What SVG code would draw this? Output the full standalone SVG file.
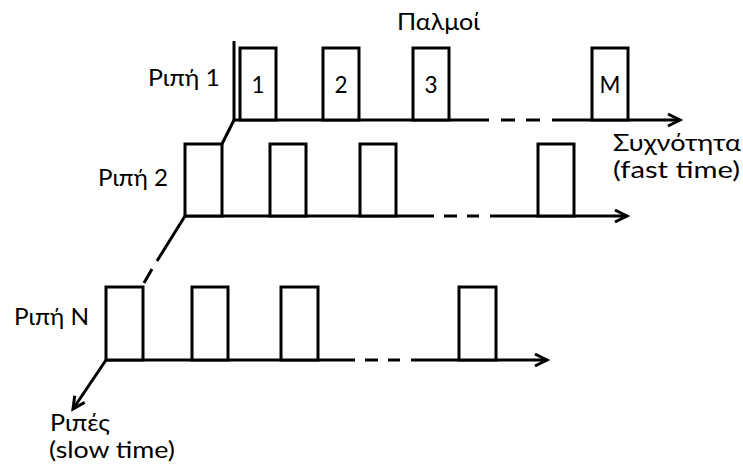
<svg xmlns="http://www.w3.org/2000/svg" width="743" height="471" viewBox="0 0 743 471">
<style>
.ln{stroke:#000;stroke-width:3;fill:none;stroke-linecap:butt}
.p{stroke:#000;stroke-width:3;fill:#fff}
.t{font-family:Lato,"Open Sans","Liberation Sans",sans-serif;font-size:22.5px;fill:#000}
.c{text-anchor:middle}
</style>
<defs>
<marker id="arr" markerUnits="userSpaceOnUse" markerWidth="16" markerHeight="16" refX="13" refY="7" orient="auto" overflow="visible">
<path d="M1,1 L13,7 L1,13" fill="none" stroke="#000" stroke-width="3"/>
</marker>
</defs>
<rect width="743" height="471" fill="#fff"/>
<g id="connectors">
<line class="ln" x1="234" y1="41" x2="234" y2="121.5"/>
<path class="ln" d="M234,120 L489,120 M501,120 L515,120 M526,120 L540,120"/>
<line class="ln" x1="552" y1="120" x2="680" y2="120" marker-end="url(#arr)"/>
<path class="ln" d="M185,216 L434,216 M444,216 L457,216 M467,216 L479,216"/>
<line class="ln" x1="490" y1="216" x2="627" y2="216" marker-end="url(#arr)"/>
<path class="ln" d="M106,360 L355,360 M365,360 L378,360 M388,360 L400,360"/>
<line class="ln" x1="411" y1="360" x2="547" y2="360" marker-end="url(#arr)"/>
<path class="ln" d="M234,120 L222,144 M185,216 L157,261 M152,269 L144,283"/>
<line class="ln" x1="106" y1="360" x2="73" y2="409" marker-end="url(#arr)"/>
</g>
<g id="row1">
<rect class="p" x="240" y="48" width="36" height="72"/>
<rect class="p" x="323" y="48" width="36" height="72"/>
<rect class="p" x="413" y="48" width="36" height="72"/>
<rect class="p" x="592" y="48" width="36" height="72"/>
<text class="t c" x="258" y="93">1</text>
<text class="t c" x="341" y="93">2</text>
<text class="t c" x="431" y="93">3</text>
<text class="t c" x="610" y="93">M</text>
</g>
<g id="row2">
<rect class="p" x="185" y="144" width="37" height="72"/>
<rect class="p" x="270" y="144" width="36" height="72"/>
<rect class="p" x="360" y="144" width="36" height="72"/>
<rect class="p" x="538" y="144" width="36" height="72"/>
</g>
<g id="rowN">
<rect class="p" x="106" y="287" width="37" height="73"/>
<rect class="p" x="192" y="287" width="36" height="73"/>
<rect class="p" x="281" y="287" width="37" height="73"/>
<rect class="p" x="459" y="287" width="37" height="73"/>
</g>
<g id="labels">
<text class="t" x="397" y="30" textLength="83" lengthAdjust="spacingAndGlyphs">Παλμοί</text>
<text class="t" x="148" y="86" textLength="72" lengthAdjust="spacingAndGlyphs">Ριπή 1</text>
<text class="t" x="98" y="186" textLength="70" lengthAdjust="spacingAndGlyphs">Ριπή 2</text>
<text class="t" x="14" y="325" textLength="75" lengthAdjust="spacingAndGlyphs">Ριπή Ν</text>
<text class="t" x="613" y="151" textLength="128" lengthAdjust="spacingAndGlyphs">Συχνότητα</text>
<text class="t" x="613" y="178" textLength="127" lengthAdjust="spacingAndGlyphs">(fast time)</text>
<text class="t" x="50" y="431" textLength="60" lengthAdjust="spacingAndGlyphs">Ριπές</text>
<text class="t" x="49" y="458" textLength="126" lengthAdjust="spacingAndGlyphs">(slow time)</text>
</g>
</svg>
